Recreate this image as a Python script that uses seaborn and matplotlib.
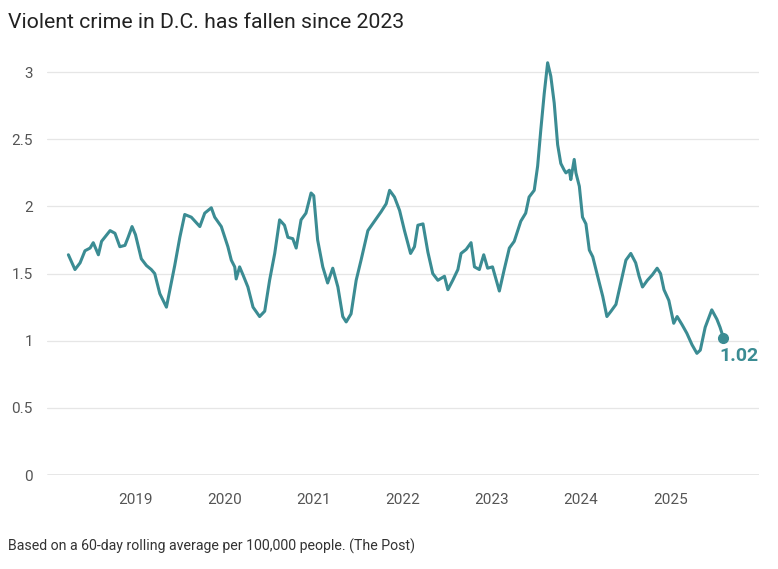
import pandas as pd
import matplotlib
matplotlib.use("Agg")
import matplotlib.pyplot as plt
import seaborn as sns

# ---------------------------------------------------------
# Data (60-day rolling avg per 100k)
# ---------------------------------------------------------
dates = [
    "2018-03-31", "2018-04-27", "2018-05-18", "2018-06-07", "2018-06-28",
    "2018-07-11", "2018-08-01", "2018-08-14", "2018-09-18", "2018-10-08",
    "2018-10-28", "2018-11-18", "2018-12-01", "2018-12-17", "2018-12-31",
    "2019-01-24", "2019-02-14", "2019-03-06", "2019-03-20", "2019-04-10",
    "2019-05-07", "2019-06-10", "2019-07-01", "2019-07-21", "2019-08-17",
    "2019-09-21", "2019-10-11", "2019-11-07", "2019-11-21", "2019-12-18",
    "2020-01-14", "2020-01-28", "2020-02-11", "2020-02-17", "2020-03-02",
    "2020-03-16", "2020-04-05", "2020-04-26", "2020-05-23", "2020-06-13",
    "2020-07-03", "2020-07-24", "2020-08-13", "2020-09-02", "2020-09-16",
    "2020-10-06", "2020-10-20", "2020-11-09", "2020-11-29", "2020-12-20",
    "2020-12-31", "2021-01-16", "2021-02-06", "2021-02-26", "2021-03-19",
    "2021-04-09", "2021-04-29", "2021-05-13", "2021-06-02", "2021-06-23",
    "2021-07-13", "2021-08-10", "2021-09-06", "2021-10-03", "2021-10-24",
    "2021-11-07", "2021-11-27", "2021-12-18", "2022-01-07", "2022-02-01",
    "2022-02-17", "2022-03-03", "2022-03-24", "2022-04-13", "2022-05-03",
    "2022-05-24", "2022-06-20", "2022-07-04", "2022-07-24", "2022-08-14",
    "2022-08-27", "2022-09-17", "2022-10-07", "2022-10-21", "2022-11-10",
    "2022-11-28", "2022-12-14", "2023-01-03", "2023-01-31", "2023-02-20",
    "2023-03-13", "2023-04-02", "2023-04-29", "2023-05-19", "2023-06-02",
    "2023-06-23", "2023-07-07", "2023-07-20", "2023-08-03", "2023-08-17",
    "2023-08-30", "2023-09-13", "2023-09-27", "2023-10-10", "2023-10-24",
    "2023-10-31", "2023-11-14", "2023-11-20", "2023-12-04", "2023-12-11",
    "2023-12-25", "2024-01-07", "2024-01-21", "2024-02-04", "2024-02-18",
    "2024-03-02", "2024-03-16", "2024-03-30", "2024-04-16", "2024-05-03",
    "2024-05-23", "2024-06-12", "2024-07-03", "2024-07-23", "2024-08-12",
    "2024-08-26", "2024-09-09", "2024-09-29", "2024-10-19", "2024-11-08",
    "2024-11-22", "2024-12-06", "2024-12-26", "2025-01-15", "2025-01-29",
    "2025-02-18", "2025-03-10", "2025-03-31", "2025-04-20", "2025-05-04",
    "2025-05-24", "2025-06-20", "2025-07-11", "2025-07-24", "2025-08-07",
]
rate = [
    1.64, 1.53, 1.58, 1.67, 1.69,
    1.73, 1.64, 1.74, 1.82, 1.80,
    1.70, 1.71, 1.77, 1.85, 1.79,
    1.61, 1.56, 1.53, 1.50, 1.35,
    1.25, 1.56, 1.77, 1.94, 1.92,
    1.85, 1.95, 1.99, 1.92, 1.85,
    1.70, 1.60, 1.55, 1.46, 1.55,
    1.49, 1.40, 1.25, 1.18, 1.22,
    1.45, 1.65, 1.90, 1.86, 1.77,
    1.76, 1.69, 1.90, 1.95, 2.10,
    2.08, 1.75, 1.55, 1.43, 1.54,
    1.40, 1.18, 1.14, 1.20, 1.45,
    1.60, 1.82, 1.89, 1.96, 2.02,
    2.12, 2.07, 1.97, 1.82, 1.65,
    1.70, 1.86, 1.87, 1.66, 1.50,
    1.45, 1.48, 1.38, 1.45, 1.53,
    1.65, 1.68, 1.73, 1.55, 1.53,
    1.64, 1.54, 1.55, 1.37, 1.53,
    1.69, 1.74, 1.89, 1.95, 2.07,
    2.12, 2.30, 2.57, 2.84, 3.07,
    2.97, 2.77, 2.46, 2.32, 2.27,
    2.25, 2.27, 2.20, 2.35, 2.25,
    2.15, 1.92, 1.87, 1.675, 1.625,
    1.53, 1.43, 1.33, 1.18, 1.22,
    1.27, 1.43, 1.60, 1.65, 1.58,
    1.48, 1.40, 1.45, 1.49, 1.54,
    1.50, 1.38, 1.30, 1.13, 1.18,
    1.12, 1.055, 0.97, 0.906, 0.93,
    1.10, 1.23, 1.16, 1.10, 1.02,
]
year_ticks = [2019, 2020, 2021, 2022, 2023, 2024, 2025]
y_ticks = [0, 0.5, 1, 1.5, 2, 2.5, 3]
last_label = "1.02"

TEAL = "#3b8c93"

df = pd.DataFrame({"date": pd.to_datetime(dates), "rate": rate})

sns.set_theme(style="white")
plt.rcParams["font.family"] = ["Roboto", "DejaVu Sans"]

fig = plt.figure(figsize=(7.78, 5.69), dpi=100)
ax = fig.add_axes([0.060, 0.1652, 0.916, 0.7316])

sns.lineplot(data=df, x="date", y="rate", ax=ax, color=TEAL, linewidth=2.2)

# end point marker + label
ax.plot(df["date"].iloc[-1], df["rate"].iloc[-1], "o", color=TEAL, markersize=7)
ax.annotate(last_label, xy=(df["date"].iloc[-1], df["rate"].iloc[-1]),
            xytext=(-3, -13), textcoords="offset points",
            ha="left", va="center", fontsize=14, fontweight="bold", color=TEAL)

# axes styling
ax.set_xlim(pd.Timestamp("2018-01-01"), pd.Timestamp("2026-01-01"))
ax.set_ylim(0, 3.1)
ax.set_yticks(y_ticks)
ax.set_yticklabels([f"{t:g}" for t in y_ticks])
ax.set_xticks([pd.Timestamp(f"{y}-01-01") for y in year_ticks])
ax.set_xticklabels([str(y) for y in year_ticks])
ax.set_xlabel("")
ax.set_ylabel("")
for s in ax.spines.values():
    s.set_visible(False)
ax.grid(axis="y", color="#e6e6e6", linewidth=0.9)
ax.set_axisbelow(True)
ax.axhline(0, color="#999999", linewidth=1.0, zorder=1)
ax.tick_params(axis="both", length=0, labelsize=11, colors="#555555")
ax.tick_params(axis="y", pad=10)
ax.tick_params(axis="x", pad=13)

fig.text(0.010, 0.961, "Violent crime in D.C. has fallen since 2023",
         fontsize=15.3, color="#222222", va="center", ha="left")
fig.text(0.010, 0.039, "Based on a 60-day rolling average per 100,000 people. (The Post)",
         fontsize=10.2, color="#333333", va="center", ha="left")

fig.savefig("out.png", dpi=100)
